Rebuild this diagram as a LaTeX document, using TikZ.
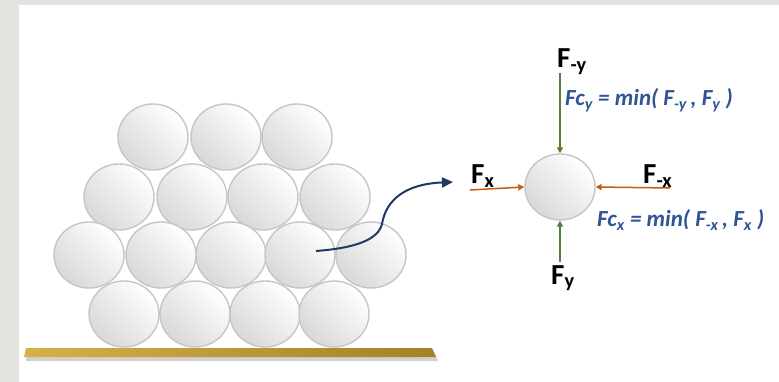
\documentclass[tikz,border=0pt]{standalone}
\usepackage{fontspec}
\setmainfont{Carlito}
\usetikzlibrary{arrows.meta,shapes.geometric}

\definecolor{frame}{HTML}{E3E2DF}
\definecolor{ballline}{HTML}{C6C6C6}
\definecolor{ballshade}{HTML}{D8D8D8}
\definecolor{pushgreen}{HTML}{548235}
\definecolor{pushorange}{HTML}{C55A11}
\definecolor{eqblue}{HTML}{2F5597}
\definecolor{navy}{HTML}{1F3864}
\definecolor{goldleft}{HTML}{D5B148}
\definecolor{goldright}{HTML}{A38127}

\begin{document}
\begin{tikzpicture}[
      x=1pt, y=-1pt,
      ball/.style={ellipse, draw=ballline, line width=1.4pt, minimum width=70pt,
      minimum height=66pt, inner sep=0pt, top color=white, bottom color=ballshade,
      shading angle=-45},
      force/.style={line width=1.5pt, -{Triangle[length=6pt,width=6pt]}},
      lbl/.style={font=\fontsize{29}{31}\selectfont\bfseries, inner sep=0pt, anchor=base west},
      eqn/.style={font=\fontsize{23}{25}\selectfont\bfseries\itshape, text=eqblue,
      inner sep=0pt, anchor=base west}
    ]
    % page and frame
    \fill[frame] (0,0) rectangle (779,382);
    \fill[white] (19,5) rectangle (779,382);
    \useasboundingbox (0,0) rectangle (779,382);

    % ground
    \fill[black, opacity=0.18] (27,352) -- (434,352) -- (438,361) -- (26,361) -- cycle;
    \shade[left color=goldleft, right color=goldright] (26,348) -- (432,348) -- (436,357) -- (24,357) -- cycle;

    % stack of balls
    \node[ball] (b11) at (153,137) {};
    \node[ball] (b12) at (226,137) {};
    \node[ball] (b13) at (297,137) {};
    \node[ball] (b21) at (119,197) {};
    \node[ball] (b22) at (192,197) {};
    \node[ball] (b23) at (263,197) {};
    \node[ball] (b24) at (335,197) {};
    \node[ball] (b31) at (89,255) {};
    \node[ball] (b32) at (161,255) {};
    \node[ball] (b33) at (231,255) {};
    \node[ball] (b34) at (300,255) {};
    \node[ball] (b35) at (371,255) {};
    \node[ball] (b41) at (124,314) {};
    \node[ball] (b42) at (195,314) {};
    \node[ball] (b43) at (265,314) {};
    \node[ball] (b44) at (334,314) {};

    % zoom arrow
    \coordinate (zstart) at (316,251);
    \coordinate (zend) at (453,182);
    \draw[navy, line width=2pt, -{Triangle[length=11pt,width=10pt]}]
      (zstart) .. controls (355,248) and (378,240) .. (382,224)
      .. controls (386,200) and (405,184) .. (zend);

    % single ball with forces
    \node[ball] (one) at (560,187) {};
    \coordinate (ftop) at (560,73);
    \coordinate (fbot) at (560,262);
    \coordinate (fleft) at (470,190);
    \coordinate (fright) at (670,188);
    \draw[force, pushgreen] (ftop) -- (one.north);
    \draw[force, pushgreen] (fbot) -- (one.south);
    \draw[force, pushorange] (fleft) -- (one.west);
    \draw[force, pushorange] (fright) -- (one.east);

    \node[lbl] (fmy) at (557,68) {F\textsubscript{-y}};
    \node[lbl] (fy) at (551,284) {F\textsubscript{y}};
    \node[lbl] (fx) at (471,184) {F\textsubscript{x}};
    \node[lbl] (fmx) at (643,184) {F\textsubscript{-x}};
    \node[eqn] (eqy) at (565,106) {Fc\textsubscript{y} = min( F\textsubscript{-y}\,, F\textsubscript{y} )};
    \node[eqn] (eqx) at (597,227) {Fc\textsubscript{x} = min( F\textsubscript{-x}\,, F\textsubscript{x} )};
  \end{tikzpicture}
\end{document}
